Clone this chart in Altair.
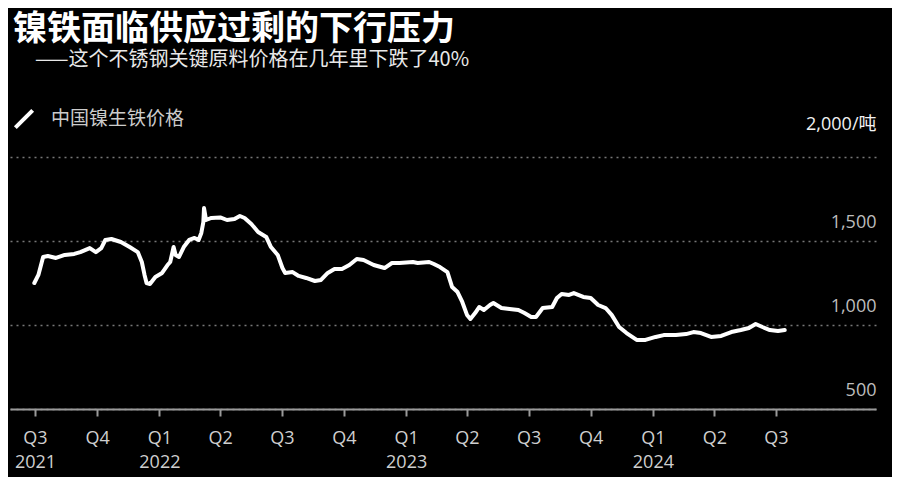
import altair as alt
import pandas as pd

TITLE = "镍铁面临供应过剩的下行压力"
SUBTITLE = "——这个不锈钢关键原料价格在几年里下跌了40%"
SERIES = "中国镍生铁价格"

dates = [
    "2021-06-30", "2021-07-06", "2021-07-13", "2021-07-20", "2021-08-01", "2021-08-14",
    "2021-08-28", "2021-09-06", "2021-09-20", "2021-09-29", "2021-10-07", "2021-10-13",
    "2021-10-22", "2021-11-05", "2021-11-18", "2021-11-30", "2021-12-06", "2021-12-10",
    "2021-12-13", "2021-12-18", "2021-12-26", "2022-01-05", "2022-01-13", "2022-01-17",
    "2022-01-22", "2022-01-25", "2022-01-30", "2022-02-06", "2022-02-14", "2022-02-22",
    "2022-02-28", "2022-03-04", "2022-03-07", "2022-03-08", "2022-03-11", "2022-03-19",
    "2022-04-01", "2022-04-11", "2022-04-22", "2022-04-30", "2022-05-07", "2022-05-17",
    "2022-05-27", "2022-06-08", "2022-06-15", "2022-06-25", "2022-07-02", "2022-07-06",
    "2022-07-17", "2022-07-26", "2022-08-06", "2022-08-19", "2022-08-28", "2022-09-07",
    "2022-09-17", "2022-09-28", "2022-10-09", "2022-10-20", "2022-10-30", "2022-11-14",
    "2022-11-30", "2022-12-11", "2022-12-22", "2023-01-11", "2023-01-18", "2023-02-04",
    "2023-02-11", "2023-02-20", "2023-03-03", "2023-03-10", "2023-03-18", "2023-03-25",
    "2023-04-01", "2023-04-06", "2023-04-13", "2023-04-19", "2023-04-26", "2023-05-05",
    "2023-05-10", "2023-05-22", "2023-06-03", "2023-06-16", "2023-06-25", "2023-07-05",
    "2023-07-12", "2023-07-22", "2023-08-05", "2023-08-12", "2023-08-19", "2023-08-30",
    "2023-09-06", "2023-09-20", "2023-10-01", "2023-10-12", "2023-10-23", "2023-11-01",
    "2023-11-12", "2023-11-23", "2023-12-08", "2023-12-21", "2024-01-05", "2024-01-17",
    "2024-02-04", "2024-02-19", "2024-03-01", "2024-03-12", "2024-03-27", "2024-04-11",
    "2024-04-26", "2024-05-10", "2024-05-22", "2024-06-01", "2024-06-11", "2024-06-22",
    "2024-07-04", "2024-07-14",
]

prices = [
    1250, 1298, 1405, 1411, 1399, 1417,
    1423, 1434, 1458, 1434, 1458, 1506,
    1512, 1494, 1464, 1434, 1375, 1298,
    1250, 1244, 1286, 1310, 1357, 1375,
    1464, 1417, 1405, 1464, 1506, 1518,
    1506, 1548, 1613, 1696, 1625, 1637,
    1640, 1625, 1631, 1649, 1637, 1601,
    1554, 1524, 1464, 1417, 1339, 1310,
    1315, 1292, 1280, 1262, 1268, 1310,
    1333, 1333, 1357, 1393, 1387, 1357,
    1339, 1369, 1369, 1375, 1369, 1375,
    1363, 1345, 1315, 1226, 1196, 1137,
    1060, 1036, 1071, 1107, 1089, 1119,
    1131, 1101, 1095, 1089, 1071, 1048,
    1048, 1101, 1107, 1161, 1185, 1179,
    1190, 1167, 1161, 1119, 1101, 1060,
    988, 952, 911, 911, 929, 940,
    940, 946, 958, 952, 929, 935,
    958, 970, 982, 1006, 988, 970,
    964, 970,
]

y_ticks = [500, 1000, 1500, 2000]
quarter_ticks = [
    (2021, 7), (2021, 10), (2022, 1), (2022, 4), (2022, 7), (2022, 10),
    (2023, 1), (2023, 4), (2023, 7), (2023, 10), (2024, 1), (2024, 4), (2024, 7),
]

df = pd.DataFrame({"date": dates, "price": prices, "series": SERIES})

NUM_FONT = "'Open Sans', 'Noto Sans CJK SC'"
CJK_FONT = "Noto Sans CJK SC"

x_axis = alt.Axis(
    values=[alt.DateTime(year=y, month=m, date=1, utc=True) for y, m in quarter_ticks],
    labelExpr=(
        "utcmonth(datum.value) == 0 || (utcyear(datum.value) == 2021 && utcmonth(datum.value) == 6)"
        " ? ['Q' + utcquarter(datum.value), '' + utcyear(datum.value)]"
        " : 'Q' + utcquarter(datum.value)"
    ),
    title=None,
    grid=False,
    domain=True,
    domainColor="#9a9a9a",
    domainWidth=2,
    ticks=True,
    tickColor="#9a9a9a",
    tickWidth=2,
    tickSize=7,
    labelColor="#cfcfcf",
    labelFont=NUM_FONT,
    labelFontSize=18,
    labelPadding=13,
    labelLineHeight=24,
    labelOverlap=False,
    labelFlush=False,
)

y_axis = alt.Axis(
    orient="right",
    values=y_ticks,
    labelExpr="datum.value == 2000 ? '2,000/吨' : format(datum.value, ',')",
    title=None,
    grid=True,
    gridColor="#777777",
    gridDash=[2, 4],
    gridWidth=1.3,
    domain=False,
    ticks=False,
    tickSize=0,
    labelAlign="right",
    labelBaseline="middle",
    labelPadding=0,
    labelFont=NUM_FONT,
    labelFontSize=18,
    labelColor={"condition": {"test": "datum.value == 2000", "value": "#f2f2f2"}, "value": "#bdbdbd"},
    labelOffset={"condition": {"test": "datum.value == 2000", "value": -33}, "value": -19},
)

line = alt.Chart(df).mark_line(strokeWidth=4, strokeJoin="round", strokeCap="round").encode(
    x=alt.X(
        "date:T",
        scale=alt.Scale(
            type="utc",
            domain=[
                alt.DateTime(year=2021, month=5, date=25, utc=True),
                alt.DateTime(year=2024, month=11, date=26, utc=True),
            ],
        ),
        axis=x_axis,
    ),
    y=alt.Y("price:Q", scale=alt.Scale(domain=[500, 2000], nice=False, zero=False), axis=y_axis),
    color=alt.Color(
        "series:N",
        scale=alt.Scale(range=["#ffffff"]),
        legend=alt.Legend(
            title=None,
            orient="none",
            legendX=3,
            legendY=-49,
            symbolType="M-1,1L1,-1",
            symbolSize=300,
            symbolStrokeWidth=4,
            symbolStrokeColor="#ffffff",
            labelColor="#cccccc",
            labelFont=CJK_FONT,
            labelFontSize=19,
            labelOffset=16,
        ),
    ),
)

title_text = alt.Chart(pd.DataFrame({"t": [TITLE]})).mark_text(
    align="left", baseline="alphabetic", font=CJK_FONT, fontSize=34, fontWeight="bold", color="#ffffff"
).encode(text="t:N", x=alt.value(3), y=alt.value(-117))

subtitle_text = alt.Chart(pd.DataFrame({"t": [SUBTITLE]})).mark_text(
    align="left", baseline="middle", font=CJK_FONT, fontSize=20, color="#e8e8e8"
).encode(text="t:N", x=alt.value(25), y=alt.value(-97))

chart = alt.layer(line, title_text, subtitle_text).properties(
    width=866,
    height=252,
    autosize=alt.AutoSizeParams(type="none"),
    padding={"left": 2, "top": 149, "right": 16, "bottom": 68},
    background="#000000",
).configure_view(stroke=None)

chart.save("out.html", embed_options={"renderer": "svg", "actions": False})
